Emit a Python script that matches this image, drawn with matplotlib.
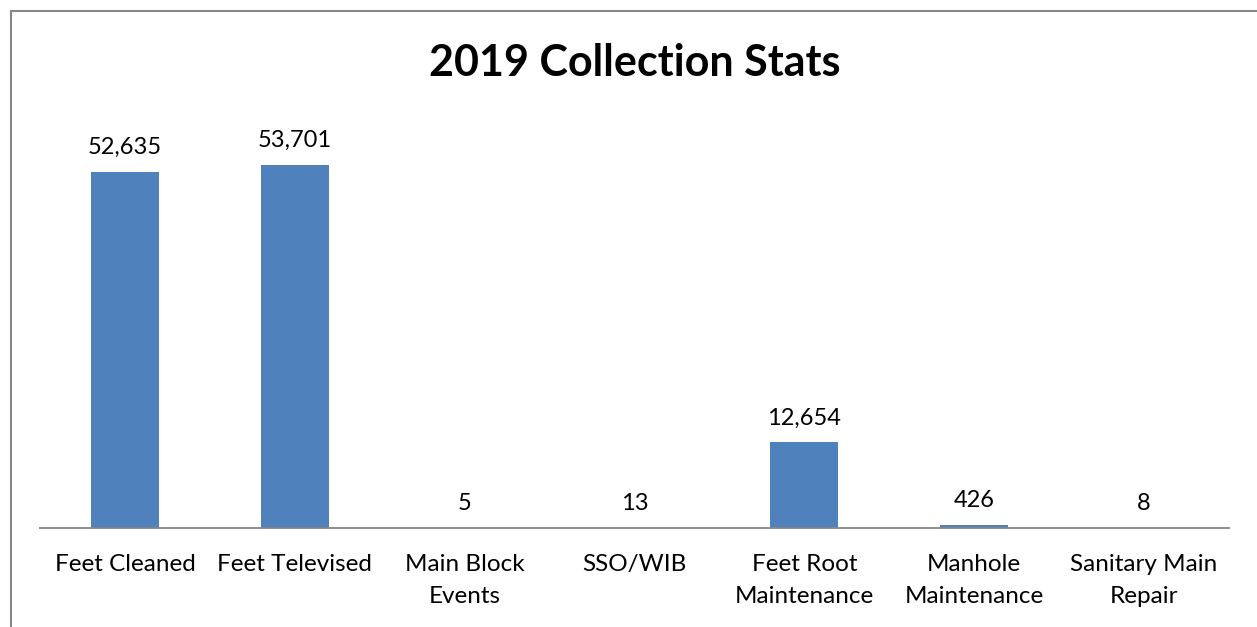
import matplotlib.pyplot as plt
from matplotlib.lines import Line2D

categories = ['Feet Cleaned', 'Feet Televised', 'Main Block\nEvents', 'SSO/WIB',
              'Feet Root\nMaintenance', 'Manhole\nMaintenance', 'Sanitary Main\nRepair']
values = [52635, 53701, 5, 13, 12654, 426, 8]

plt.rcParams['font.family'] = ['Lato', 'DejaVu Sans']

W, H = 1257, 627
fig = plt.figure(figsize=(W / 100, H / 100), dpi=100)

# plot area in pixel terms
x0, x1, base = 40, 1229, 528
ymax = 60000
px_per_unit = 363 / 53701
top = base - ymax * px_per_unit
ax = fig.add_axes([x0 / W, (H - base) / H, (x1 - x0) / W, (base - top) / H])

xs = range(len(values))
ax.bar(xs, values, width=0.4, color='#4F81BD')
ax.set_xlim(-0.5, len(values) - 0.5)
ax.set_ylim(0, ymax)

for x, v in zip(xs, values):
    ax.annotate(f'{v:,}', (x, v), xytext=(0, 10), textcoords='offset points',
                ha='center', va='bottom', fontsize=17)

ax.set_xticks(list(xs))
ax.set_xticklabels(categories, fontsize=17.5, linespacing=1.68)
ax.tick_params(axis='x', length=0, pad=18.5)
ax.set_yticks([])
for s in ['top', 'right', 'left']:
    ax.spines[s].set_visible(False)
ax.spines['bottom'].set_color('#868686')
ax.spines['bottom'].set_linewidth(1.3)

fig.text(635 / W, 1 - 63 / H, '2019 Collection Stats', ha='center', va='center',
         fontsize=31, fontweight='bold')

# outer chart border (left and top edges only visible)
fig.add_artist(Line2D([11 / W, 11 / W], [0, 1 - 11 / H], color='#878787', lw=1.5,
                      transform=fig.transFigure))
fig.add_artist(Line2D([11 / W, 1], [1 - 11 / H, 1 - 11 / H], color='#878787', lw=1.5,
                      transform=fig.transFigure))

fig.savefig('out.png', dpi=100)
